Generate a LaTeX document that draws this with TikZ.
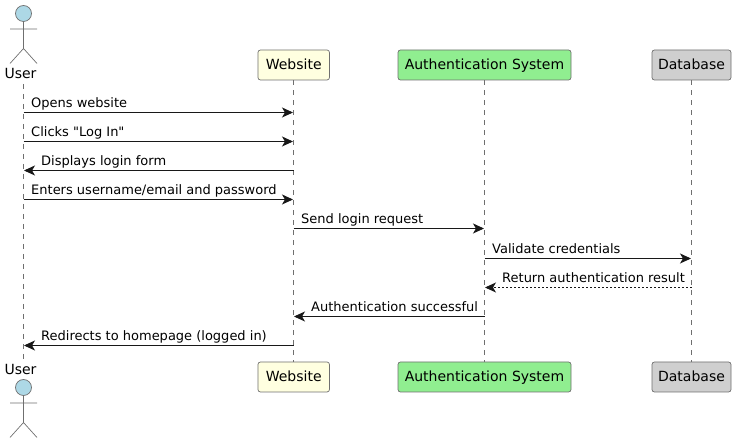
\documentclass[tikz,border=0pt]{standalone}
\usepackage{fontspec}
\newfontfamily\dv{DejaVu Sans}
\usetikzlibrary{arrows.meta}
\definecolor{edgegray}{HTML}{6F6F6F}
\definecolor{ink}{HTML}{181818}
\definecolor{actorblue}{HTML}{ADD8E6}
\definecolor{ivory}{HTML}{FFFFE0}
\definecolor{lgreen}{HTML}{90EE90}
\definecolor{lgray}{HTML}{CFCFCF}
\tikzset{
  part/.style={draw=edgegray,line width=0.7pt,rounded corners=2.5pt,minimum height=30pt,inner sep=0pt,text=black,text height=13pt,text depth=3pt,font=\dv\fontsize{14}{16}\selectfont},
  lifeline/.style={draw=edgegray,line width=0.6pt,dash pattern=on 5pt off 5pt},
  stick/.style={draw=edgegray,line width=0.7pt},
  msg/.style={draw=ink,line width=0.9pt,-{Stealth[length=11pt,width=10pt,inset=3pt]},shorten >=0.5pt},
  reply/.style={msg,dash pattern=on 2pt off 2pt},
  lbl/.style={anchor=base west,inner sep=0pt,text=black,font=\dv\fontsize{13}{15}\selectfont},
  actorname/.style={inner sep=0pt,anchor=base,text=black,font=\dv\fontsize{14}{16}\selectfont}
}
\begin{document}
\begin{tikzpicture}[x=1pt,y=-1pt]
\useasboundingbox (0,0) rectangle (737,443);
\coordinate (ut) at (23.5,84);
\coordinate (ub) at (23.5,360);
\node[part,fill=ivory,minimum width=71.5pt] (wt) at (293.7,65) {Website};
\node[part,fill=ivory,minimum width=71.5pt] (wb) at (293.7,377) {Website};
\node[part,fill=lgreen,minimum width=173pt] (at) at (484.5,65) {Authentication System};
\node[part,fill=lgreen,minimum width=173pt] (ab) at (484.5,377) {Authentication System};
\node[part,fill=lgray,minimum width=79pt] (dt) at (691.5,65) {Database};
\node[part,fill=lgray,minimum width=79pt] (db) at (691.5,377) {Database};
\draw[lifeline] (ut) -- (ub);
\draw[lifeline] (wt.south) -- (wb.north);
\draw[lifeline] (at.south) -- (ab.north);
\draw[lifeline] (dt.south) -- (db.north);
\node[actorname] (ulabeltop) at (20.5,78.5) {User};
\node[actorname] (ulabelbot) at (20.5,375) {User};
\draw[stick,fill=actorblue] (23.5,13.5) circle (8);
\draw[stick] (23.5,21.5) -- (23.5,48.5) (10,29) -- (37,29) (10,63.5) -- (23.5,48.5) -- (37,63.5);
\draw[stick,fill=actorblue] (23.5,387.5) circle (8);
\draw[stick] (23.5,395.5) -- (23.5,422.5) (10,403) -- (37,403) (10,437.5) -- (23.5,422.5) -- (37,437.5);
\foreach \n/\y in {1/112.5,2/141.5,3/170.5,4/199.5,9/345.5}{
  \coordinate (u\n) at (23.5,\y);
  \coordinate (w\n) at (293.5,\y);
}
\coordinate (w5) at (293.5,228.5);
\coordinate (a5) at (484.5,228.5);
\coordinate (a6) at (484.5,258.5);
\coordinate (d6) at (691.5,258.5);
\coordinate (a7) at (484.5,287.5);
\coordinate (d7) at (691.5,287.5);
\coordinate (a8) at (484.5,316.5);
\coordinate (w8) at (293.5,316.5);
\draw[msg] (u1) -- (w1);
\draw[msg] (u2) -- (w2);
\draw[msg] (w3) -- (u3);
\draw[msg] (u4) -- (w4);
\draw[msg] (w5) -- (a5);
\draw[msg] (a6) -- (d6);
\draw[reply] (d7) -- (a7);
\draw[msg] (a8) -- (w8);
\draw[msg] (w9) -- (u9);
\node[lbl] (l1) at (31,108) {Opens website};
\node[lbl] (l2) at (31,137) {Clicks "Log In"};
\node[lbl] (l3) at (41,166) {Displays login form};
\node[lbl] (l4) at (31,195) {Enters username/email and password};
\node[lbl] (l5) at (301,224) {Send login request};
\node[lbl] (l6) at (492,253.5) {Validate credentials};
\node[lbl] (l7) at (502,282.5) {Return authentication result};
\node[lbl] (l8) at (311,312) {Authentication successful};
\node[lbl] (l9) at (41,341) {Redirects to homepage (logged in)};
\end{tikzpicture}
\end{document}
